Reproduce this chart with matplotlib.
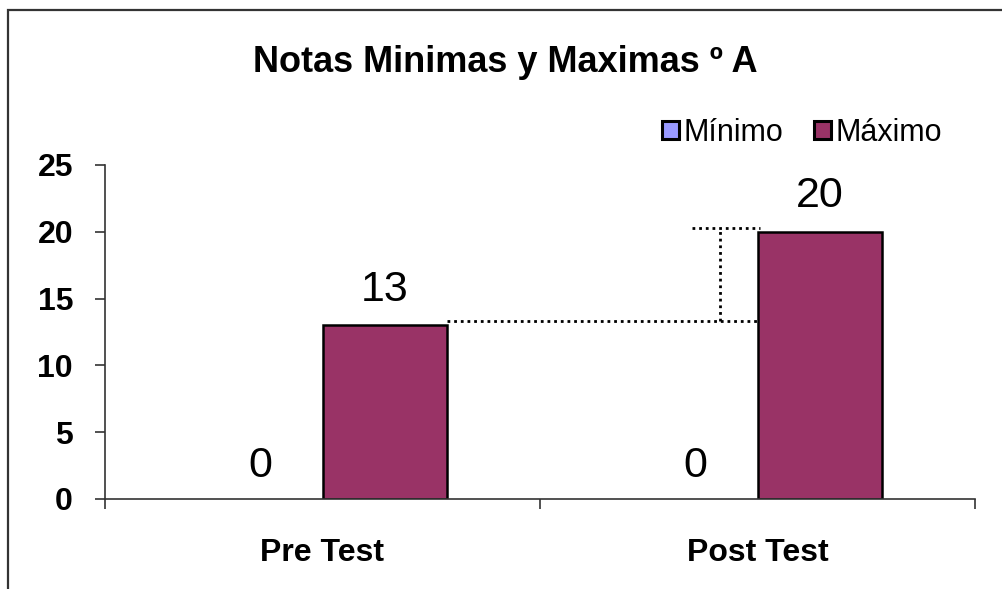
import matplotlib
matplotlib.use("Agg")
import matplotlib.pyplot as plt
from matplotlib.patches import Rectangle
import numpy as np

plt.rcParams['font.family'] = ['Liberation Sans', 'DejaVu Sans']

categories = ["Pre Test", "Post Test"]
series_names = ["Mínimo", "Máximo"]
minimo = [0, 0]
maximo = [13, 20]
colors = ["#9999FF", "#993366"]
yticks = [0, 5, 10, 15, 20, 25]
title = "Notas Minimas y Maximas º A"

W, H = 1002, 589
fig = plt.figure(figsize=(W/100, H/100), dpi=100)
fig.patches.append(Rectangle((8/W, -0.1), 1.2, 1 - 10/H + 0.1, transform=fig.transFigure,
                             fill=False, edgecolor="#333333", linewidth=1.6))

ax = fig.add_axes([105/W, 1 - 499/H, (975-105)/W, (499-165)/H])
x = np.arange(len(categories))
bw = 0.287
ax.bar(x - bw/2, minimo, bw, color=colors[0], edgecolor="none", linewidth=0, label=series_names[0])
ax.bar(x + bw/2, maximo, bw, color=colors[1], edgecolor="black", linewidth=1.8, label=series_names[1])

for xi, v in zip(x - bw/2, minimo):
    ax.text(xi, v + 1.65, str(v), ha="center", va="baseline", fontsize=31)
for xi, v in zip(x + bw/2, maximo):
    ax.text(xi, v + 1.85, str(v), ha="center", va="baseline", fontsize=31)

# dotted difference annotation
lv, hv = maximo[0] + 0.3, maximo[1] + 0.3
ls = (0, (1, 1.4))
ax.plot([x[0] + bw, x[1] + 0.005], [lv, lv], color="black", linestyle=ls, linewidth=2.0, clip_on=False)
ax.plot([x[1] - 0.15, x[1] + 0.005], [hv, hv], color="black", linestyle=ls, linewidth=2.0, clip_on=False)
ax.plot([x[1] - 0.086, x[1] - 0.086], [lv, hv], color="black", linestyle=ls, linewidth=2.0, clip_on=False)

ax.set_xlim(-0.5, len(categories) - 0.5)
ax.set_ylim(0, 25)
ax.set_yticks(yticks)
ax.set_yticklabels([str(t) for t in yticks], fontsize=23, fontweight="bold")
ax.set_xticks(x)
ax.set_xticklabels(categories, fontsize=23, fontweight="bold")
ax.set_xticks(np.arange(-0.5, len(categories), 1.0), minor=True)
ax.tick_params(axis="x", which="major", length=0, pad=28)
ax.tick_params(axis="x", which="minor", length=7, width=1.2, color="#333333", direction="out")
ax.tick_params(axis="y", length=7, width=1.2, color="#333333", pad=16, direction="out")
for s in ["top", "right"]:
    ax.spines[s].set_visible(False)
for s in ["left", "bottom"]:
    ax.spines[s].set_color("#333333")
    ax.spines[s].set_linewidth(1.2)

fig.text(505/W, 1 - 62/H, title, ha="center", va="center", fontsize=26, fontweight="bold")

leg = ax.legend(loc="center right", bbox_to_anchor=(957/W, 1 - 133/H), bbox_transform=fig.transFigure,
                ncol=2, frameon=False, fontsize=22, handlelength=0.55, handleheight=0.55,
                handletextpad=0.15, columnspacing=1.0, borderpad=0)
for p in leg.get_patches():
    p.set_edgecolor("black")
    p.set_linewidth(2.2)

fig.savefig("out.png", dpi=100)
